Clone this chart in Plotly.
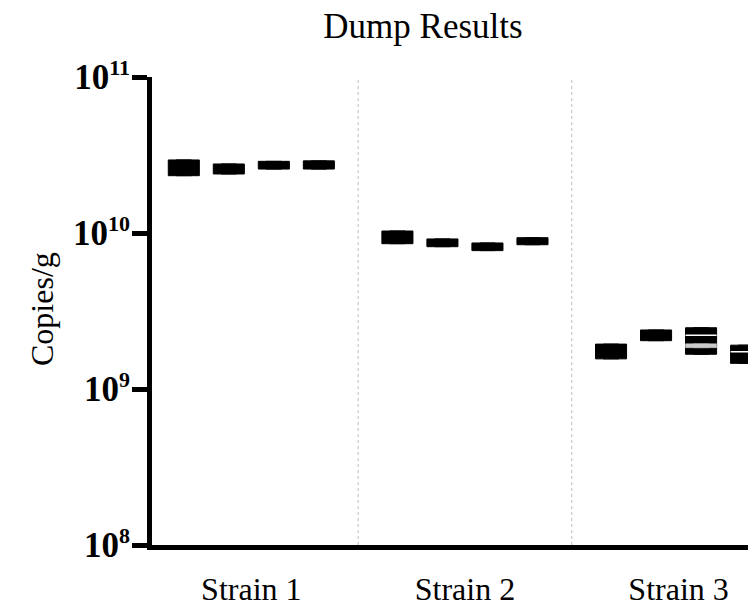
import plotly.graph_objects as go

categories = ["Strain 1", "Strain 2", "Strain 3"]
# per-replicate box statistics (copies/g): [strain1, strain2, strain3]
rep_q1 = [
    [2.33e10, 8.54e9, 1.56e9],
    [2.39e10, 8.17e9, 2.04e9],
    [2.57e10, 7.71e9, 1.67e9],
    [2.57e10, 8.41e9, 1.46e9],
]
rep_q3 = [
    [2.94e10, 1.03e10, 1.94e9],
    [2.77e10, 9.16e9, 2.39e9],
    [2.88e10, 8.63e9, 2.47e9],
    [2.90e10, 9.33e9, 1.91e9],
]
rep_median = [
    [2.62e10, 9.4e9, 1.74e9],
    [2.57e10, 8.65e9, 2.21e9],
    [2.72e10, 8.16e9, 2.03e9],
    [2.73e10, 8.86e9, 1.67e9],
]
# light inner lines visible in Strain 3, replicates 3 and 4
inner_cat = ["Strain 3"]
inner3_white = [2.21e9]
inner3_grey_lo = [1.84e9]
inner3_grey_hi = [1.95e9]
inner4_white = [1.73e9]

y_tick_vals = [1e8, 1e9, 1e10, 1e11]
y_tick_exps = ["8", "9", "10", "11"]

fig = go.Figure()
for i in range(4):
    fig.add_trace(go.Box(
        x=categories, q1=rep_q1[i], q3=rep_q3[i], median=rep_median[i],
        lowerfence=rep_q1[i], upperfence=rep_q3[i],
        fillcolor="black", line=dict(color="black", width=1),
        offsetgroup=str(i), boxpoints=False, showlegend=False, hoverinfo="skip",
    ))

fig.add_trace(go.Box(
    x=inner_cat, q1=inner3_grey_lo, q3=inner3_grey_hi, median=inner3_grey_lo,
    lowerfence=inner3_grey_lo, upperfence=inner3_grey_hi,
    fillcolor="#cccccc", line=dict(color="#cccccc", width=0.5),
    offsetgroup="2", boxpoints=False, showlegend=False, hoverinfo="skip",
))
for grp, val in (("2", inner3_white), ("3", inner4_white)):
    fig.add_trace(go.Box(
        x=inner_cat, q1=val, q3=val, median=val, lowerfence=val, upperfence=val,
        fillcolor="white", line=dict(color="white", width=1.5),
        offsetgroup=grp, boxpoints=False, showlegend=False, hoverinfo="skip",
    ))

for xb in (0.5, 1.5):
    fig.add_shape(type="line", xref="x", yref="paper", x0=xb, x1=xb, y0=0, y1=1,
                  line=dict(color="#bbbbbb", width=1, dash="dot"), layer="below")

serif = "Liberation Serif, Times New Roman, serif"
W, H = 756, 609
L, R, T, B = 144, 0, 69, 72
pw, ph = W - L - R, H - T - B

fig.add_annotation(
    text="Copies/g", textangle=-90, showarrow=False,
    xref="paper", yref="paper", x=(34 - L) / pw, y=(H - B - 301) / ph,
    xanchor="center", yanchor="middle",
    font=dict(family=serif, size=32, color="black"),
)

fig.update_layout(
    width=W, height=H,
    margin=dict(l=L, r=R, t=T, b=B),
    paper_bgcolor="white", plot_bgcolor="white",
    boxmode="group", boxgap=0.157, boxgroupgap=0.31,
    title=dict(text="Dump Results", x=415 / W, xanchor="center", xref="container",
               y=1 - 18 / H, yanchor="middle", yref="container",
               font=dict(family=serif, size=35, color="black")),
    font=dict(family=serif, color="black"),
)
fig.update_xaxes(
    type="category", range=[-0.465, 2.40], automargin=False,
    showline=True, linecolor="black", linewidth=5,
    ticks="", showgrid=False, zeroline=False, ticklabelstandoff=12,
    tickfont=dict(family=serif, size=32, color="black"),
)
fig.update_yaxes(
    type="log", range=[8, 11], automargin=False,
    tickvals=y_tick_vals,
    ticktext=["10<sup><span style='font-size:22px'>%s</span></sup>" % e for e in y_tick_exps],
    showline=True, linecolor="black", linewidth=5,
    ticks="outside", ticklen=15, tickwidth=5, tickcolor="black",
    showgrid=False, zeroline=False, ticklabelstandoff=-5,
    tickfont=dict(family=serif, size=35, color="black", weight="bold"),
)
fig.write_html("out.html")
